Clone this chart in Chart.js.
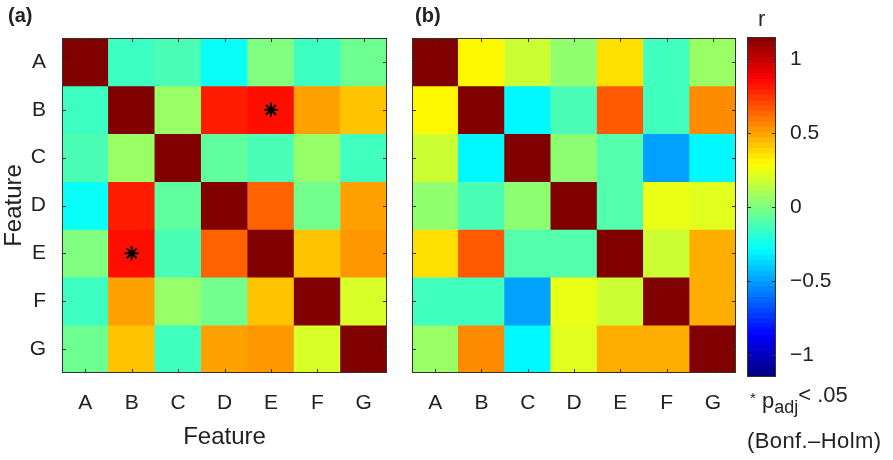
<!DOCTYPE html>
<html>
<head>
<meta charset="utf-8">
<script src="https://cdn.jsdelivr.net/npm/chart.js@4.4.1/dist/chart.umd.min.js"></script>
<style>
  body { margin: 0; background: #fff; }
  #wrap { position: relative; width: 893px; height: 460px; font-family: "Liberation Sans", Arial, sans-serif; color: #222; }
  canvas { position: absolute; top: 0; }
  .lbl { position: absolute; white-space: nowrap; line-height: 1; }
</style>
</head>
<body>
<div id="wrap">
  <canvas id="heatA" width="400" height="460" style="left:0"></canvas>
  <canvas id="heatB" width="340" height="460" style="left:400px"></canvas>
  <canvas id="cbar" width="153" height="460" style="left:740px"></canvas>
  <div class="lbl" style="left:8px; top:5px; font-weight:bold; font-size:20px;">(a)</div>
  <div class="lbl" style="left:415px; top:5px; font-weight:bold; font-size:20px;">(b)</div>
  <div class="lbl" style="left:758px; top:8px; font-size:22px;">r</div>
  <div class="lbl" style="left:750px; top:390px; font-size:22px;"><span style="font-size:15px; vertical-align:top;">*</span> p<sub style="font-size:18px;">adj</sub><span style="position:relative; top:-6px;">&lt; .05</span></div>
  <div class="lbl" style="left:747px; top:430px; font-size:22px; letter-spacing:0.4px;">(Bonf.&#8211;Holm)</div>
</div>
<script>
// features (rows top to bottom, columns left to right)
const features = ['A', 'B', 'C', 'D', 'E', 'F', 'G'];

// panel (a) correlation matrix
const corrA = [
  [ 1.00, -0.15, -0.12, -0.27,  0.00, -0.15, -0.04],
  [-0.15,  1.00,  0.06,  0.80,  0.83,  0.50,  0.42],
  [-0.12,  0.06,  1.00, -0.07, -0.12,  0.05, -0.14],
  [-0.27,  0.80, -0.07,  1.00,  0.64, -0.03,  0.50],
  [ 0.00,  0.83, -0.12,  0.64,  1.00,  0.42,  0.52],
  [-0.15,  0.50,  0.05, -0.03,  0.42,  1.00,  0.20],
  [-0.04,  0.42, -0.14,  0.50,  0.52,  0.20,  1.00]
];

// panel (b) correlation matrix
const corrB = [
  [ 1.00,  0.30,  0.17,  0.04,  0.36, -0.14,  0.06],
  [ 0.30,  1.00, -0.30, -0.12,  0.66, -0.14,  0.55],
  [ 0.17, -0.30,  1.00,  0.03, -0.10, -0.50, -0.30],
  [ 0.04, -0.12,  0.03,  1.00, -0.10,  0.24,  0.22],
  [ 0.36,  0.66, -0.10, -0.10,  1.00,  0.17,  0.47],
  [-0.14, -0.14, -0.50,  0.24,  0.17,  1.00,  0.47],
  [ 0.06,  0.55, -0.30,  0.22,  0.47,  0.47,  1.00]
];

// significant cells in (a): [row, column]
const sigA = [['B', 'E'], ['E', 'B']];

// colour bar
const cbTicks = [-1, -0.5, 0, 0.5, 1];
const rMin = -1.15, rMax = 1.15;
const cbLevels = 64;

Chart.defaults.font.family = '"Liberation Sans", Arial, sans-serif';
Chart.defaults.color = '#222';

function clamp01(x) { return Math.max(0, Math.min(1, x)); }

// matlab style jet colormap
function jet(v) {
  const t = clamp01((v - rMin) / (rMax - rMin));
  const r = clamp01(1.5 - Math.abs(4 * t - 3));
  const g = clamp01(1.5 - Math.abs(4 * t - 2));
  const b = clamp01(1.5 - Math.abs(4 * t - 1));
  return `rgb(${Math.round(r * 255)},${Math.round(g * 255)},${Math.round(b * 255)})`;
}

// self correlation is shown with the top colour of the scale
function cellColour(v) {
  return v >= 1 ? jet(rMax) : jet(v);
}

function fmt(v) {
  return v < 0 ? '\u2212' + Math.abs(v) : String(v);
}

// box round the plot + small inward ticks
const framePlugin = {
  id: 'frame',
  afterDatasetsDraw(chart, args, opts) {
    const { ctx, chartArea: a } = chart;
    ctx.save();
    ctx.strokeStyle = '#333';
    ctx.lineWidth = 1;
    ctx.strokeRect(a.left + 0.5, a.top + 0.5, a.right - a.left - 1, a.bottom - a.top - 1);
    const len = 4;
    ctx.beginPath();
    if (opts.xTicks) {
      const xs = chart.scales.x;
      xs.ticks.forEach((t, i) => {
        const px = Math.round(xs.getPixelForTick(i)) + 0.5;
        ctx.moveTo(px, a.bottom); ctx.lineTo(px, a.bottom - len);
        ctx.moveTo(px, a.top); ctx.lineTo(px, a.top + len);
      });
    }
    const ys = chart.scales.y;
    ys.ticks.forEach((t) => {
      const py = Math.round(ys.getPixelForValue(t.value)) + 0.5;
      ctx.moveTo(a.left, py); ctx.lineTo(a.left + len, py);
      ctx.moveTo(a.right, py); ctx.lineTo(a.right - len, py);
    });
    ctx.stroke();
    ctx.restore();
  }
};

function makeHeatmap(id, matrix, showY, stars, yWidth, rightPad) {
  const datasets = features.map((rowName, r) => ({
    type: 'bar',
    label: rowName,
    data: features.map(() => [r - 0.5, r + 0.5]),
    backgroundColor: matrix[r].map(cellColour),
    borderWidth: 0,
    barPercentage: 1,
    categoryPercentage: 1,
    grouped: false,
    order: 1
  }));

  if (stars.length) {
    datasets.push({
      type: 'line',
      label: 'p < .05',
      data: stars.map(([row, col]) => ({ x: col, y: features.indexOf(row) })),
      showLine: false,
      pointStyle: 'star',
      pointRadius: 7,
      borderColor: '#000',
      backgroundColor: '#000',
      borderWidth: 2,
      order: -1
    });
  }

  return new Chart(document.getElementById(id), {
    type: 'bar',
    data: { labels: features, datasets: datasets },
    options: {
      responsive: false,
      animation: false,
      devicePixelRatio: 1,
      layout: { padding: { top: 38, right: rightPad, left: 0, bottom: 0 } },
      plugins: {
        legend: { display: false },
        tooltip: { enabled: false },
        frame: { xTicks: true }
      },
      scales: {
        x: {
          type: 'category',
          offset: true,
          grid: { display: false },
          border: { display: false },
          ticks: { font: { size: 21 }, padding: 10, maxRotation: 0 },
          title: { display: showY, text: 'Feature', font: { size: 24 }, padding: { top: 0, bottom: 8 } },
          afterFit: (s) => { s.height = 87; }
        },
        y: {
          type: 'linear',
          reverse: true,
          min: -0.5,
          max: 6.5,
          grid: { display: false },
          border: { display: false },
          afterBuildTicks: (s) => { s.ticks = features.map((f, i) => ({ value: i })); },
          ticks: { display: showY, font: { size: 21 }, padding: 8, callback: (v) => features[v] },
          title: { display: showY, text: 'Feature', font: { size: 24 }, padding: { top: 0, bottom: 2 } },
          afterFit: (s) => { s.width = yWidth; }
        }
      }
    },
    plugins: [framePlugin]
  });
}

makeHeatmap('heatA', corrA, true, sigA, 62, 13);
makeHeatmap('heatB', corrB, false, [], 12, 4);

// colour bar: one floating bar per level
const step = (rMax - rMin) / cbLevels;
const cbSets = [];
for (let i = 0; i < cbLevels; i++) {
  const lo = rMin + i * step;
  cbSets.push({
    data: [[lo, lo + step]],
    backgroundColor: jet(lo + step / 2),
    borderWidth: 0,
    barPercentage: 1,
    categoryPercentage: 1,
    grouped: false
  });
}

new Chart(document.getElementById('cbar'), {
  type: 'bar',
  data: { labels: ['r'], datasets: cbSets },
  options: {
    responsive: false,
    animation: false,
    devicePixelRatio: 1,
    layout: { padding: { top: 37, left: 7, right: 0, bottom: 83 } },
    plugins: { legend: { display: false }, tooltip: { enabled: false }, frame: { xTicks: false } },
    scales: {
      x: { display: false },
      y: {
        position: 'right',
        min: rMin,
        max: rMax,
        grid: { display: false },
        border: { display: false },
        afterBuildTicks: (s) => { s.ticks = cbTicks.map(v => ({ value: v })); },
        ticks: { font: { size: 21 }, padding: 6, callback: fmt },
        afterFit: (s) => { s.width = 117; }
      }
    }
  },
  plugins: [framePlugin]
});
</script>
</body>
</html>
